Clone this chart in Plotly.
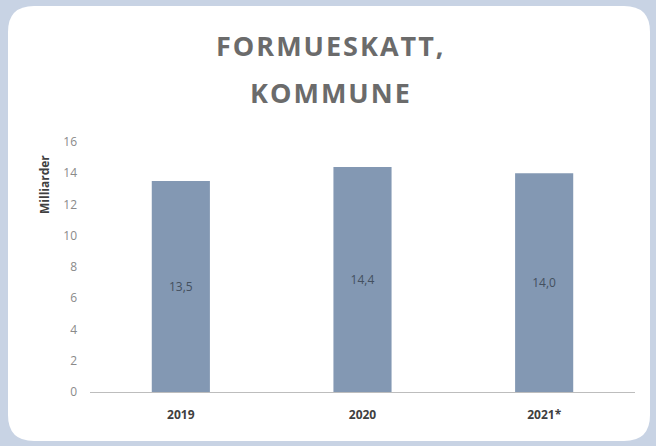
import plotly.graph_objects as go

categories = ["2019", "2020", "2021*"]
values = [13.5, 14.4, 14.0]
value_labels = ["13,5", "14,4", "14,0"]
y_ticks = [0, 2, 4, 6, 8, 10, 12, 14, 16]

W, H = 656, 446
FONT = "Open Sans"

def px(x):
    return x / W

def py(y):
    return 1 - y / H

# rounded white card
x0, x1, yt, yb, r = 8, 650, 6, 441, 26
path = (
    f"M {px(x0 + r)},{py(yt)} L {px(x1 - r)},{py(yt)} "
    f"Q {px(x1)},{py(yt)} {px(x1)},{py(yt + r)} "
    f"L {px(x1)},{py(yb - r)} Q {px(x1)},{py(yb)} {px(x1 - r)},{py(yb)} "
    f"L {px(x0 + r)},{py(yb)} Q {px(x0)},{py(yb)} {px(x0)},{py(yb - r)} "
    f"L {px(x0)},{py(yt + r)} Q {px(x0)},{py(yt)} {px(x0 + r)},{py(yt)} Z"
)

fig = go.Figure(
    go.Bar(
        x=categories,
        y=values,
        text=value_labels,
        textposition="inside",
        insidetextanchor="middle",
        textangle=0,
        textfont=dict(family=FONT, size=12, color="#44505f"),
        marker=dict(color="#8398b3", line=dict(width=0)),
        hoverinfo="skip",
    )
)

title_font = dict(family=FONT, size=27, color="#6b6b6b", weight=700)
fig.update_layout(
    width=W,
    height=H,
    margin=dict(l=0, r=0, t=0, b=0),
    paper_bgcolor="#c8d3e4",
    plot_bgcolor="rgba(0,0,0,0)",
    bargap=0.68,
    showlegend=False,
    shapes=[
        dict(type="path", path=path, xref="paper", yref="paper",
             fillcolor="white", line=dict(width=0), layer="below")
    ],
    annotations=[
        dict(text='<span style="letter-spacing:2px">FORMUESKATT,</span>',
             x=px(331), y=py(46), xref="paper", yref="paper",
             showarrow=False, xanchor="center", yanchor="middle", font=title_font),
        dict(text='<span style="letter-spacing:2px">KOMMUNE</span>',
             x=px(331), y=py(92), xref="paper", yref="paper",
             showarrow=False, xanchor="center", yanchor="middle", font=title_font),
        dict(text="Milliarder", x=px(44), y=py(185), xref="paper", yref="paper",
             showarrow=False, xanchor="center", yanchor="middle", textangle=-90,
             font=dict(family=FONT, size=12, color="#404040", weight="bold")),
    ],
    xaxis=dict(
        domain=[px(90), px(635)],
        showline=True, linecolor="#bdbdbd", linewidth=1,
        showgrid=False, ticks="", automargin=False,
        ticklabelstandoff=12,
        tickfont=dict(family=FONT, size=12, color="#404040", weight="bold"),
    ),
    yaxis=dict(
        domain=[1 - 392 / H, 1 - 142 / H],
        range=[0, 16],
        tickvals=y_ticks,
        ticktext=[str(v) for v in y_ticks],
        showgrid=False, zeroline=False, showline=False, ticks="",
        automargin=False, ticklabelstandoff=12,
        tickfont=dict(family=FONT, size=12, color="#8a8a8a"),
    ),
)

fig.write_html(
    "out.html",
    config={"displayModeBar": False},
    post_script="document.body.style.margin='0';document.body.style.overflow='hidden';",
)
